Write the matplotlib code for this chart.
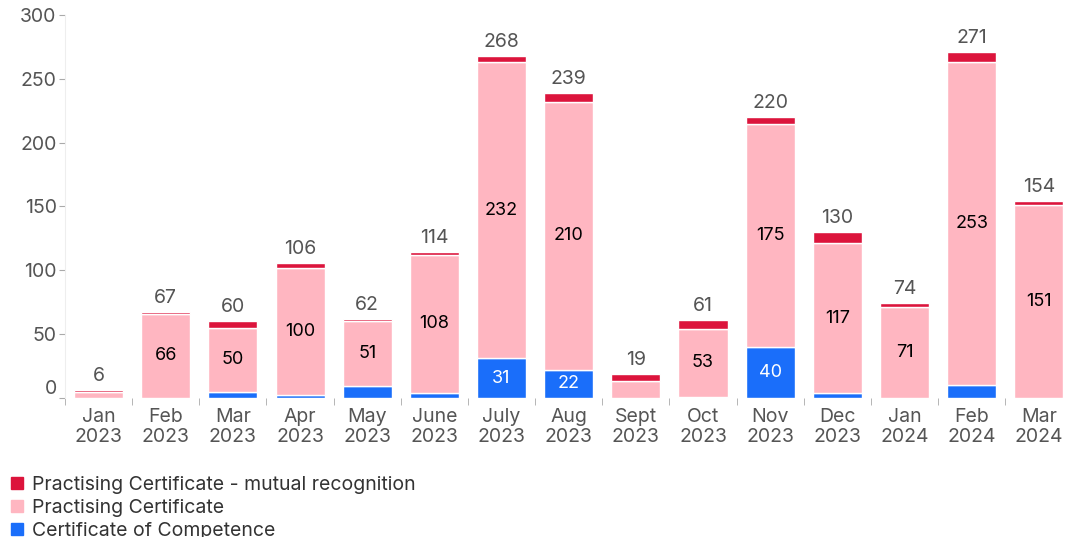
import matplotlib.pyplot as plt
import numpy as np
from matplotlib.patches import Patch

plt.rcParams['font.family'] = ['Inter', 'DejaVu Sans']

months = ['Jan\n2023', 'Feb\n2023', 'Mar\n2023', 'Apr\n2023', 'May\n2023', 'June\n2023',
          'July\n2023', 'Aug\n2023', 'Sept\n2023', 'Oct\n2023', 'Nov\n2023', 'Dec\n2023',
          'Jan\n2024', 'Feb\n2024', 'Mar\n2024']
competence = [0, 0, 5, 2, 9, 4, 31, 22, 0, 1, 40, 4, 0, 10, 0]
practising = [5, 66, 50, 100, 51, 108, 232, 210, 13, 53, 175, 117, 71, 253, 151]
mutual = [1, 1, 5, 4, 2, 2, 5, 7, 6, 7, 5, 9, 3, 8, 3]

c_comp = '#1A6EFA'
c_prac = '#FFB6C1'
c_mut = '#DC143C'
grey = '#555555'

x = np.arange(len(months))
comp = np.array(competence)
prac = np.array(practising)
mut = np.array(mutual)
total = comp + prac + mut

fig = plt.figure(figsize=(10.65, 5.37), dpi=100)
ax = fig.add_axes([0.061, 0.259, 0.939, 0.713])

w = 0.73
ax.bar(x, comp, w, color=c_comp, edgecolor='white', linewidth=1)
ax.bar(x, prac, w, bottom=comp, color=c_prac, edgecolor='white', linewidth=1)
ax.bar(x, mut, w, bottom=comp + prac, color=c_mut, edgecolor='white', linewidth=1)

for i in range(len(x)):
    ax.text(x[i], total[i] + 4, str(total[i]), ha='center', va='bottom',
            fontsize=14, color=grey)
    if prac[i] >= 30:
        ax.text(x[i], comp[i] + prac[i] / 2, str(prac[i]), ha='center', va='center',
                fontsize=13, color='black')
    if comp[i] >= 15:
        ax.text(x[i], comp[i] / 2, str(comp[i]), ha='center', va='center',
                fontsize=13, color='white')

ax.set_xlim(-0.5, 14.39)
ax.set_ylim(0, 300)
ax.set_yticks(range(0, 301, 50))
ax.tick_params(axis='y', labelsize=14, labelcolor=grey, color='#aaaaaa', length=4, pad=2)
# the zero label sits a little higher in the original
ax.get_yticklabels()[0].set_verticalalignment('bottom')
ax.set_xticks(x)
ax.set_xticklabels(months, fontsize=14, color=grey, linespacing=1.15)
ax.set_xticks(np.arange(-0.5, 14.5, 1), minor=True)
ax.tick_params(axis='x', which='major', length=0, pad=7)
ax.tick_params(axis='x', which='minor', length=5, color='#aaaaaa')

for s in ['top', 'right', 'bottom']:
    ax.spines[s].set_visible(False)
ax.spines['left'].set_color('#eeeeee')

handles = [Patch(color=c_mut, label='Practising Certificate - mutual recognition'),
           Patch(color=c_prac, label='Practising Certificate'),
           Patch(color=c_comp, label='Certificate of Competence')]
fig.legend(handles=handles, loc='upper left', bbox_to_anchor=(0.003, 0.128),
           frameon=False, fontsize=14, handlelength=0.6, handleheight=0.6,
           handletextpad=0.5, labelspacing=0.25, borderaxespad=0, labelcolor='#333333')

fig.savefig('out.png', dpi=100)
